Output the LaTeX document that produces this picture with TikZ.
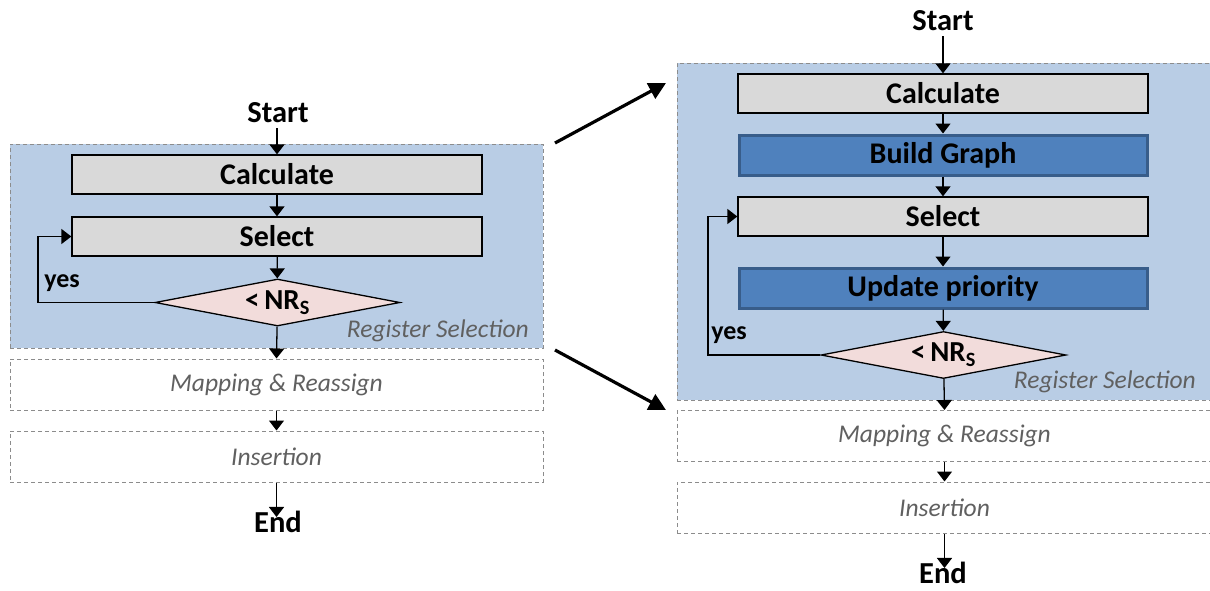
\documentclass[tikz,border=0pt]{standalone}
\usepackage{fontspec}
\setmainfont{Carlito}
\usetikzlibrary{shapes.geometric,arrows.meta}
\definecolor{regionfill}{HTML}{B9CDE5}
\definecolor{dashgray}{HTML}{8C8C8C}
\definecolor{boxgray}{HTML}{D9D9D9}
\definecolor{darkblue}{HTML}{4F81BD}
\definecolor{darkblueline}{HTML}{385D8A}
\definecolor{pinkfill}{HTML}{F2DCDB}
\definecolor{labelgray}{HTML}{606060}
\tikzset{
  region/.style={draw=dashgray, dash pattern=on 4pt off 3pt, line width=1pt, fill=regionfill, minimum width=533pt, inner sep=0pt},
  phase/.style={draw=dashgray, dash pattern=on 4pt off 3pt, line width=1pt, fill=white, minimum width=533pt, minimum height=51pt, inner sep=0pt, font=\fontsize{25.5}{27}\selectfont\itshape, text=labelgray},
  graybox/.style={draw=black, line width=1.3pt, fill=boxgray, minimum width=410pt, minimum height=39pt, inner sep=0pt, font=\fontsize{30}{32}\selectfont\bfseries},
  bluebox/.style={draw=darkblueline, line width=3pt, fill=darkblue, minimum width=408pt, minimum height=40pt, inner sep=0pt, font=\fontsize{30}{32}\selectfont\bfseries},
  decision/.style={diamond, aspect=5.2, draw=black, line width=1.3pt, fill=pinkfill, minimum width=245pt, minimum height=47pt, inner sep=0pt, font=\fontsize{29}{31}\selectfont\bfseries},
  terminal/.style={font=\fontsize{30.5}{32}\selectfont\bfseries, inner sep=0pt},
  yeslabel/.style={font=\fontsize{26}{28}\selectfont\bfseries, inner sep=0pt},
  reglabel/.style={font=\fontsize{25.5}{27}\selectfont\itshape, text=labelgray, inner sep=0pt, anchor=south east},
  flow/.style={line width=1.3pt, -{Triangle[length=10pt,width=15pt]}},
  bigarrow/.style={line width=3.2pt, -{Triangle[length=17pt,width=17pt]}}
}
\newcommand{\nrs}{<\,NR\textsubscript{S}}
\begin{document}
\begin{tikzpicture}[x=1pt,y=-1pt]
\useasboundingbox (0,0) rectangle (1210,590);

% ---------- original flow (left) ----------
\node[region, minimum height=204pt] (regA) at (276.5,246) {};
\node[reglabel] (regAlbl) at (529,342) {Register Selection};
\node[terminal] (startA) at (278,113) {Start};
\node[graybox] (calcA) at (277,174.5) {Calculate};
\node[graybox] (selA) at (277,236.5) {Select};
\node[decision] (decA) at (277.5,302.5) {\nrs};
\node[phase] (mapA) at (276.5,384.5) {Mapping \& Reassign};
\node[phase] (insA) at (276.5,456.5) {Insertion};
\node[terminal] (endA) at (278,522) {End};
\node[yeslabel] (yesA) at (62,283) {yes};
\coordinate (loopA) at (38,302.5);

\draw[flow] (startA.south -| calcA.north) ++(0,5) -- (calcA.north);
\draw[flow] (calcA) -- (selA);
\draw[flow] (selA) -- (decA);
\draw[flow] (decA) -- (mapA.north);
\draw[flow] (mapA) -- (insA);
\draw[flow] (insA.south) -- ([yshift=-6pt]insA.south |- endA.north);
\draw[flow] (decA.west) -- (loopA) |- (selA.west);

% ---------- extended flow (right) ----------
\node[region, minimum height=337pt, minimum width=535pt] (regB) at (944.5,231.5) {};
\node[reglabel] (regBlbl) at (1196,393) {Register Selection};
\node[terminal] (startB) at (943,21) {Start};
\node[graybox] (calcB) at (943,93.5) {Calculate};
\node[bluebox] (buildB) at (943,155) {Build Graph};
\node[graybox] (selB) at (943,216.5) {Select};
\node[bluebox] (updB) at (943,288) {Update priority};
\node[decision] (decB) at (943.5,355) {\nrs};
\node[phase, minimum width=535pt] (mapB) at (944.5,436) {Mapping \& Reassign};
\node[phase, minimum width=535pt] (insB) at (944.5,507.5) {Insertion};
\node[terminal] (endB) at (943,573) {End};
\node[yeslabel] (yesB) at (729,335) {yes};
\coordinate (loopB) at (708,355);

\draw[flow] (startB.south -| calcB.north) ++(0,5) -- (calcB.north);
\draw[flow] (calcB) -- (buildB);
\draw[flow] (buildB) -- (selB);
\draw[flow] (selB) -- (updB);
\draw[flow] (updB) -- (decB);
\draw[flow] (decB) -- (mapB.north);
\draw[flow] (mapB) -- (insB);
\draw[flow] (insB.south) -- ([yshift=-6pt]insB.south |- endB.north);
\draw[flow] (decB.west) -- (loopB) |- (selB.west);

% ---------- expansion arrows ----------
\coordinate (fromTop) at (555,143);
\coordinate (toTop) at (666,83);
\coordinate (fromBot) at (555,350);
\coordinate (toBot) at (666,410);
\draw[bigarrow] (fromTop) -- (toTop);
\draw[bigarrow] (fromBot) -- (toBot);
\end{tikzpicture}
\end{document}
